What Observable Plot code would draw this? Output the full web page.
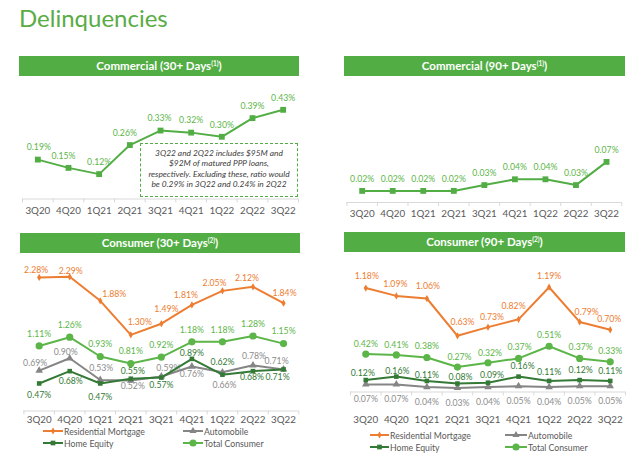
<!DOCTYPE html>
<html>
<head>
<meta charset="utf-8">
<script src="https://cdn.jsdelivr.net/npm/d3@7"></script>
<script src="https://cdn.jsdelivr.net/npm/@observablehq/plot@0.6"></script>
<style>
  html, body { margin: 0; padding: 0; background: #fff; }
  body { width: 640px; height: 456px; position: relative; overflow: hidden; font-family: Lato, "Open Sans", sans-serif; }
  .title { position: absolute; left: 19px; top: 6px; font-size: 24px; line-height: 1; color: #5aac46; }
  .banner { position: absolute; height: 20px; background: #52ae44; color: #fff; font-weight: bold; font-size: 11.5px; line-height: 20px; text-align: center; }
  .banner sup { font-size: 6.5px; vertical-align: 0; position: relative; top: -4px; }
  .panel { position: absolute; }
  .note { position: absolute; left: 140px; top: 143px; width: 156px; height: 48px; border: 1.5px dashed #52ae44; font-style: italic; color: #404040; font-size: 8.4px; line-height: 10.4px; text-align: center; padding-top: 4px; box-sizing: content-box; }
  .legend { position: absolute; font-size: 8.7px; color: #595959; }
  .legend .item { position: absolute; white-space: nowrap; display: flex; align-items: center; height: 10px; }
  .legend svg { display: block; margin-right: 1px; }
</style>
</head>
<body>
<div class="title">Delinquencies</div>
<div class="banner" style="left:19px;top:56px;width:280px;">Commercial (30+ Days<sup>(1)</sup>)</div>
<div class="banner" style="left:344px;top:56px;width:281px;">Commercial (90+ Days<sup>(1)</sup>)</div>
<div class="banner" style="left:20px;top:233px;width:280px;">Consumer (30+ Days<sup>(2)</sup>)</div>
<div class="banner" style="left:344px;top:232px;width:281px;">Consumer (90+ Days<sup>(2)</sup>)</div>
<div id="p1" class="panel" style="left:0;top:80px;"></div>
<div id="p2" class="panel" style="left:320px;top:80px;"></div>
<div id="p3" class="panel" style="left:0;top:258px;"></div>
<div id="p4" class="panel" style="left:320px;top:258px;"></div>
<div class="note">3Q22 and 2Q22 includes $95M and<br>$92M of matured PPP loans,<br>respectively. Excluding these, ratio would<br>be 0.29% in 3Q22 and 0.24% in 2Q22</div>
<div id="leg1" class="legend" style="left:0;top:0;"></div>
<div id="leg2" class="legend" style="left:0;top:0;"></div>
<script>
// ---------- data ----------
const quarters = ["3Q20","4Q20","1Q21","2Q21","3Q21","4Q21","1Q22","2Q22","3Q22"];
const commercial30 = [0.19,0.15,0.12,0.26,0.33,0.32,0.30,0.39,0.43];
const commercial90 = [0.02,0.02,0.02,0.02,0.03,0.04,0.04,0.03,0.07];
const c30Mortgage = [2.28,2.29,1.88,1.30,1.49,1.81,2.05,2.12,1.84];
const c30Auto     = [0.69,0.90,0.53,0.52,0.59,0.76,0.66,0.78,0.71];
const c30HomeEq   = [0.47,0.68,0.47,0.55,0.57,0.89,0.62,0.68,0.71];
const c30Total    = [1.11,1.26,0.93,0.81,0.92,1.18,1.18,1.28,1.15];
const c90Mortgage = [1.18,1.09,1.06,0.63,0.73,0.82,1.19,0.79,0.70];
const c90Auto     = [0.07,0.07,0.04,0.03,0.04,0.05,0.04,0.05,0.05];
const c90HomeEq   = [0.12,0.16,0.11,0.08,0.09,0.16,0.11,0.12,0.11];
const c90Total    = [0.42,0.41,0.38,0.27,0.32,0.37,0.51,0.37,0.33];
const seriesNames = ["Residential Mortgage","Automobile","Home Equity","Total Consumer"];

// ---------- styles (label nudges in pixels) ----------
const GREEN = "#52ae44", LGREEN = "#5cb548", DGREEN = "#347a36", ORANGE = "#ed7d31", GRAY = "#858585";
const nudgeC30 = [[1,-12],[-5,-12],[0,-12],[-5,-12],[-1,-12],[0,-12],[0,-12],[0,-12],[0,-12]];
const nudgeC90 = quarters.map(() => [0,-12]);
const nudgeMort30 = [[-3,-7],[1,-6],[14,-7],[9,-13],[5,-14],[-6,-10],[-8,-8],[-6,-9],[1,-10]];
const nudgeTot30 = quarters.map(() => [0,-12]);
const nudgeAuto30 = [[-4,-7],[-4,-6],[1,-12],[2,6],[7,-8],[0,8],[2,13],[1,-9],[-7,-8]];
const nudgeHE30 = [[0,12],[1,10],[0,14],[2,-8],[0,8],[0,-6],[0,-12],[-1,6],[-6,8]];
const nudgeMort90 = [[1,-12],[-1,-12],[1,-12],[5,-14],[4,-10],[-5,-13],[0,-11],[7,-10],[-1,-11]];
const nudgeTot90 = [[0,-10],[0,-10],[0,-11],[2,-10],[2,-10],[1,-11],[0,-11],[1,-11],[0,-11]];
const nudgeHE90 = [[-3,-7],[1,-5],[0,-6],[3,-6],[4,-7],[4,-10],[0,-9],[1,-10],[0,-10]];
const nudgeAuto90 = quarters.map(() => [0,15]);

function seriesMarks(values, nudges, o) {
  const data = values.map((v, i) => ({i, v}));
  const marks = [
    Plot.line(data, {x: "i", y: "v", stroke: o.color, strokeWidth: o.sw || 2}),
    Plot.dot(data, {x: "i", y: "v", symbol: o.symbol, fill: o.color, stroke: "none", r: o.r})
  ];
  data.forEach((d, k) => {
    marks.push(Plot.text([d], {x: "i", y: "v", text: d => d.v.toFixed(2) + "%", fill: o.label || o.color,
      dx: nudges[k][0], dy: nudges[k][1], fontSize: 8.7}));
  });
  return marks;
}

function panel(el, cfg, seriesList) {
  const marks = [
    Plot.ruleY([0], {stroke: "#d9d9d9", dy: cfg.axisDy || 0}),
    Plot.axisX(d3.range(-0.5, 9, 1), {tickSize: 4, tickFormat: () => "", stroke: "#d9d9d9", dy: cfg.axisDy || 0, label: null}),
    Plot.axisX(d3.range(9), {tickSize: 0, tickPadding: cfg.tickPadding, tickFormat: i => quarters[i], fill: "#595959", fontSize: 9.8, label: null})
  ];
  seriesList.forEach(s => marks.push(...seriesMarks(s.values, s.nudges, s)));
  const chart = Plot.plot({
    width: cfg.width, height: cfg.height,
    marginLeft: cfg.ml, marginRight: cfg.mr, marginTop: cfg.mt, marginBottom: cfg.mb,
    style: {fontFamily: "Lato, 'Open Sans', sans-serif", fontSize: "9px", background: "transparent", overflow: "visible"},
    x: {type: "linear", domain: [-0.5, 8.5], label: null},
    y: {domain: cfg.yDomain, axis: null, label: null},
    marks
  });
  document.getElementById(el).appendChild(chart);
}

panel("p1", {width: 320, height: 145, ml: 22, mr: 22, mt: 14.8, mb: 26.5, yDomain: [0, 0.5], tickPadding: 8},
  [{values: commercial30, nudges: nudgeC30, color: GREEN, label: LGREEN, symbol: "square", r: 3.3}]);
panel("p2", {width: 320, height: 145, ml: 26.4, mr: 18.7, mt: 35, mb: 23, yDomain: [0, 0.15], tickPadding: 8},
  [{values: commercial90, nudges: nudgeC90, color: GREEN, label: LGREEN, symbol: "square", r: 3.3}]);
panel("p3", {width: 320, height: 170, ml: 23.4, mr: 21.7, mt: 6, mb: 17.5, yDomain: [0, 2.5], tickPadding: 5.5},
  [{values: c30Auto, nudges: nudgeAuto30, color: GRAY, label: "#8c8c8c", symbol: "triangle", r: 2.8},
   {values: c30HomeEq, nudges: nudgeHE30, color: DGREEN, symbol: "square", r: 2.6},
   {values: c30Total, nudges: nudgeTot30, color: LGREEN, symbol: "circle", r: 3.6},
   {values: c30Mortgage, nudges: nudgeMort30, color: ORANGE, symbol: "diamond", r: 2.2}]);
panel("p4", {width: 320, height: 170, ml: 30, mr: 15, mt: 10.5, mb: 38, yDomain: [0, 1.4], tickPadding: 25.5, axisDy: 1.5},
  [{values: c90Auto, nudges: nudgeAuto90, color: GRAY, label: "#8c8c8c", symbol: "triangle", r: 2.8},
   {values: c90HomeEq, nudges: nudgeHE90, color: DGREEN, symbol: "square", r: 2.6},
   {values: c90Total, nudges: nudgeTot90, color: LGREEN, symbol: "circle", r: 3.6},
   {values: c90Mortgage, nudges: nudgeMort90, color: ORANGE, symbol: "diamond", r: 2.2}]);

// ---------- legends ----------
const legendStyle = [
  {color: ORANGE, symbol: d3.symbolDiamond, size: 14},
  {color: GRAY, symbol: d3.symbolTriangle, size: 22},
  {color: DGREEN, symbol: d3.symbolSquare, size: 22},
  {color: LGREEN, symbol: d3.symbolCircle, size: 40}
];
function legend(el, pos) {
  const root = document.getElementById(el);
  [0, 1, 2, 3].forEach((k, j) => {
    const p = pos[j];
    const it = document.createElement("div");
    it.className = "item";
    it.style.left = p[0] + "px"; it.style.top = (p[1] - 5) + "px";
    const w = p[2];
    const st = legendStyle[k];
    it.innerHTML = `<svg width="${w}" height="10"><line x1="0" x2="${w}" y1="5" y2="5" stroke="${st.color}" stroke-width="2"/>` +
      `<path transform="translate(${w/2},5)" d="${d3.symbol(st.symbol, st.size)()}" fill="${st.color}"/></svg><span>${seriesNames[k]}</span>`;
    root.appendChild(it);
  });
}
legend("leg1", [[43, 431, 20], [183, 431, 20], [43, 443, 20], [183, 443, 20]]);
legend("leg2", [[370, 435, 19], [505, 435, 22], [370, 447, 19], [505, 447, 22]]);
</script>
</body>
</html>
